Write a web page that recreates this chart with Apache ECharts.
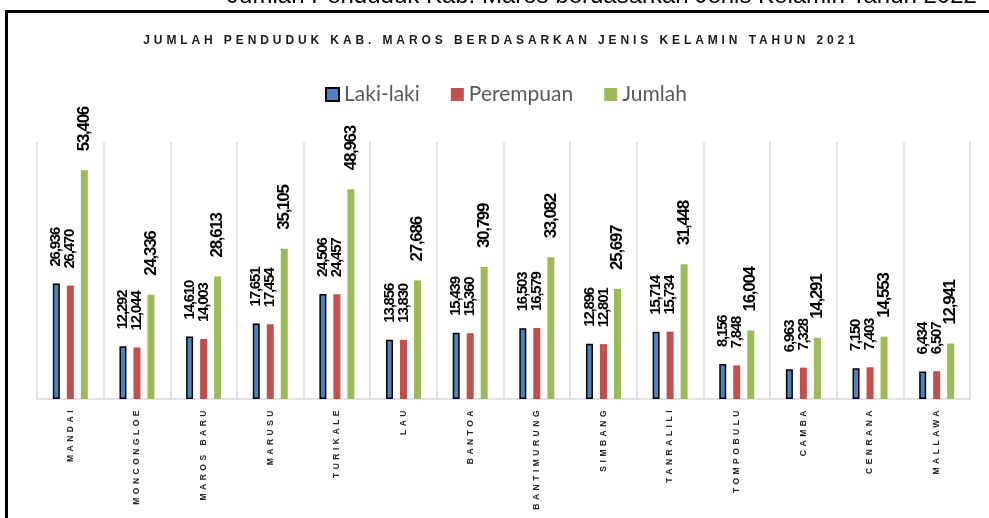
<!DOCTYPE html>
<html>
<head>
<meta charset="utf-8">
<style>
html,body{margin:0;padding:0;background:#fff;}
#chart{width:989px;height:518px;}
</style>
<script src="https://cdn.jsdelivr.net/npm/echarts@6/dist/echarts.min.js"></script>
</head>
<body>
<div id="chart"></div>
<script>
// ---- data ----
const categories = ['MANDAI','MONCONGLOE','MAROS BARU','MARUSU','TURIKALE','LAU','BANTOA','BANTIMURUNG','SIMBANG','TANRALILI','TOMPOBULU','CAMBA','CENRANA','MALLAWA'];
const seriesNames = ['Laki-laki','Perempuan','Jumlah'];
const lakiLaki  = [26936,12292,14610,17651,24506,13856,15439,16503,12896,15714,8156,6963,7150,6434];
const perempuan = [26470,12044,14003,17454,24457,13830,15360,16579,12801,15734,7848,7328,7403,6507];
const jumlah    = [53406,24336,28613,35105,48963,27686,30799,33082,25697,31448,16004,14291,14553,12941];
const chartTitle = 'JUMLAH PENDUDUK KAB. MAROS BERDASARKAN JENIS KELAMIN TAHUN 2021';
const pageTitle = 'Jumlah Penduduk Kab. Maros berdasarkan Jenis Kelamin Tahun 2022';

// letter-spacing support: font family marker "spNNx" => +NN/10 px, "spmNNx" => -NN/10 px
(function(){
  const P = CanvasRenderingContext2D.prototype;
  if (!('letterSpacing' in P)) return;
  const orig = P.fillText;
  P.fillText = function(t, x, y, m){
    const mm = /sp(m?)(\d+)x/.exec(this.font || '');
    const want = mm ? ((mm[1] ? -1 : 1) * mm[2] / 10) + 'px' : '0px';
    if (this.letterSpacing !== want) {
      this.letterSpacing = want;
      const f = this.font; this.font = f;
    }
    const r = (m === undefined) ? orig.call(this, t, x, y) : orig.call(this, t, x, y, m);
    if (want !== '0px') {
      this.letterSpacing = '0px';
      const f = this.font; this.font = f;
    }
    return r;
  };
})();

function labelCfg(size, dist, spacingMarker){
  return {
    show: true, position: 'top', rotate: 90, align: 'left', verticalAlign: 'middle',
    distance: dist, fontFamily: spacingMarker + ", 'Liberation Sans', Arial, sans-serif",
    fontWeight: 'bold', fontSize: size, color: '#000',
    formatter: p => p.value.toLocaleString('en-US')
  };
}

const chart = echarts.init(document.getElementById('chart'), null, {renderer: 'canvas'});
chart.setOption({
  animation: false,
  backgroundColor: '#fff',
  title: [
    {
      text: chartTitle, left: 501, textAlign: 'center', top: 35, padding: 0,
      textStyle: {fontFamily: "sp39x, 'Liberation Sans', Arial, sans-serif", fontWeight: 'bold', fontSize: 12, color: '#1a1a1a'}
    },
    {
      text: pageTitle, left: 602, textAlign: 'center', top: -16, padding: 0,
      textStyle: {fontFamily: "'Liberation Sans', Arial, sans-serif", fontWeight: 'normal', fontSize: 24, color: '#000'}
    }
  ],
  graphic: [{
    type: 'rect', z: 100, silent: true,
    shape: {x: 6.5, y: 11.5, width: 2000, height: 2000},
    style: {fill: 'none', stroke: '#000', lineWidth: 3}
  }],
  legend: {
    data: seriesNames, top: 79, left: 320,
    itemWidth: 13, itemHeight: 13, itemGap: 31, icon: 'rect',
    textStyle: {fontFamily: "Lato, 'Open Sans', sans-serif", fontSize: 21, color: '#595959'}
  },
  grid: {left: 37, right: 19, top: 142, bottom: 119},
  xAxis: {
    type: 'category', data: categories,
    axisLine: {lineStyle: {color: '#d9d9d9', width: 1.5}},
    axisTick: {show: false},
    splitLine: {show: true, interval: 0, lineStyle: {color: '#d9d9d9', width: 1.5}},
    axisLabel: {
      rotate: 90, interval: 0, margin: 8, fontSize: 8.5, fontWeight: 'bold', color: '#262626',
      fontFamily: "sp35x, 'Liberation Sans', Arial, sans-serif"
    }
  },
  yAxis: {type: 'value', min: 0, max: 60000, show: false, splitLine: {show: false}},
  series: [
    {name: seriesNames[0], type: 'bar', data: lakiLaki, barWidth: 7, barGap: '100%',
      itemStyle: {color: '#4F81BD', borderColor: '#000', borderWidth: 1.5},
      label: labelCfg(15, 17, 'spm12x')},
    {name: seriesNames[1], type: 'bar', data: perempuan, barWidth: 7, barGap: '100%',
      itemStyle: {color: '#C0504D'},
      label: labelCfg(15, 17, 'spm12x')},
    {name: seriesNames[2], type: 'bar', data: jumlah, barWidth: 7, barGap: '100%',
      itemStyle: {color: '#9BBB59'},
      label: labelCfg(17, 19, 'spm13x')}
  ]
});
</script>
</body>
</html>
